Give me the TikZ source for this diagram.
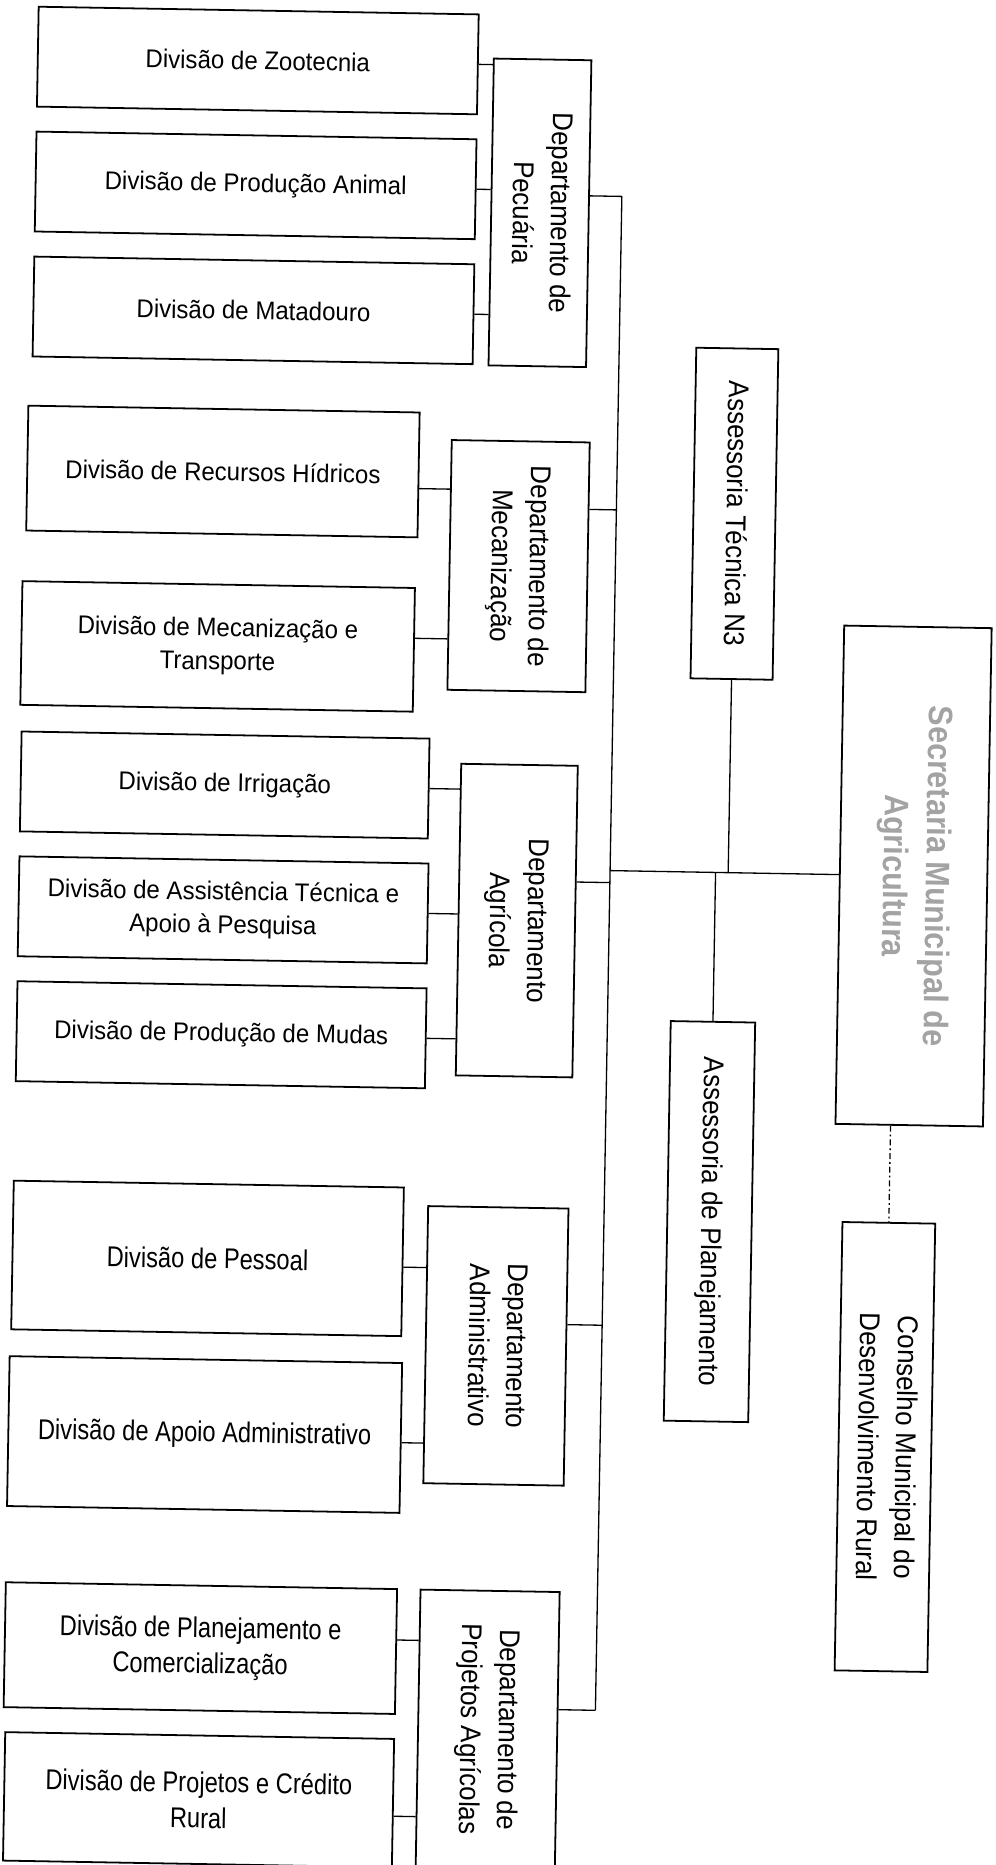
\documentclass[tikz,border=0pt]{standalone}
\usepackage{fontspec}
\usepackage{graphicx}
\setmainfont{Liberation Sans}
\newfontfamily\fU{Liberation Sans}[FakeStretch=0.94]
\newfontfamily\fL{Liberation Sans}[FakeStretch=0.83]
\newfontfamily\fD{Liberation Sans}[FakeStretch=0.91]
\newfontfamily\fS{Liberation Sans}[FakeStretch=0.9]
\definecolor{secgray}{gray}{0.64}
\newcommand{\vtext}[1]{\rotatebox{-90}{\begin{tabular}{@{}c@{}}#1\end{tabular}}}
\begin{document}
\begin{tikzpicture}[x=1pt,y=-1pt,
  box/.style={draw, line width=1.5pt, inner sep=0pt, align=center},
  divU/.style={box, font=\fU\fontsize{21.5}{28}\selectfont},
  divL/.style={box, font=\fL\fontsize{24}{30}\selectfont},
  dept/.style={box, font=\fD\fontsize{24}{32}\selectfont},
  secbox/.style={box, text=secgray, font=\fS\bfseries\fontsize{28.5}{36}\selectfont},
  conn/.style={line width=1.1pt},
  dashconn/.style={line width=1.1pt, dash pattern=on 5pt off 2.5pt on 1.5pt off 2.5pt}]
\fill[white] (0,0) rectangle (837,1568);
\useasboundingbox (0,0) rectangle (837,1568);
\begin{scope}[rotate around={-1:(418,784)}, transform shape]
% Departamento de Pecuaria
\node[divU, minimum width=370pt, minimum height=84pt] (zoot) at (204,54.5) {Divisão de Zootecnia};
\node[divU, minimum width=370pt, minimum height=84pt] (prod) at (204,159.5) {Divisão de Produção Animal};
\node[divU, minimum width=370pt, minimum height=84pt] (mat) at (204,264.6) {Divisão de Matadouro};
\node[dept, minimum width=82pt, minimum height=258pt] (pec) at (443.4,178.4) {\vtext{Departamento de\\Pecuária}};
% Departamento de Mecanizacao
\node[divU, minimum width=329pt, minimum height=105pt] (rec) at (180.7,400.5) {Divisão de Recursos Hídricos};
\node[divU, minimum width=330pt, minimum height=104pt] (mectr) at (178.8,547.6) {Divisão de Mecanização e\\Transporte};
\node[dept, minimum width=116pt, minimum height=210pt] (mec) at (430.6,475.7) {\vtext{Departamento de\\Mecanização}};
% Departamento Agricola
\node[divU, minimum width=343pt, minimum height=84pt] (irr) at (186.8,664) {Divisão de Irrigação};
\node[divU, minimum width=344pt, minimum height=84pt] (ast) at (187.3,769) {Divisão de Assistência Técnica e\\Apoio à Pesquisa};
\node[divU, minimum width=344pt, minimum height=84pt] (mud) at (187.5,874) {Divisão de Produção de Mudas};
\node[dept, minimum width=98pt, minimum height=262pt] (agr) at (434.3,773.7) {\vtext{Departamento\\Agrícola}};
% Departamento Administrativo
\node[divL, minimum width=328pt, minimum height=125pt] (pes) at (179.3,1062.2) {Divisão de Pessoal};
\node[divL, minimum width=330pt, minimum height=126pt] (apo) at (179.4,1210.3) {Divisão de Apoio Administrativo};
\node[dept, minimum width=118pt, minimum height=233pt] (adm) at (423,1131.5) {\vtext{Departamento\\Administrativo}};
% Departamento de Projetos Agricolas
\node[divL, minimum width=329pt, minimum height=105pt] (pla) at (179,1389.9) {Divisão de Planejamento e\\Comercialização};
\node[divL, minimum width=327pt, minimum height=108pt] (pro) at (179.7,1517.4) {Divisão de Projetos e Crédito\\Rural};
\node[dept, minimum width=117pt, minimum height=233pt] (dpro) at (421.7,1454) {\vtext{Departamento de\\Projetos Agrícolas}};
% right side
\node[dept, minimum width=69pt, minimum height=278pt] (at) at (611.3,428.5) {\vtext{Assessoria Técnica N3}};
\node[dept, minimum width=71pt, minimum height=336pt] (ap) at (600.7,1023.9) {\vtext{Assessoria de Planejamento}};
\node[secbox, minimum width=124pt, minimum height=419pt] (sec) at (767.2,730.4) {\vtext{Secretaria Municipal de\\Agricultura}};
\node[dept, minimum width=78pt, minimum height=377pt] (cons) at (751.5,1210.8) {\vtext{Conselho Municipal do\\Desenvolvimento Rural}};
% trunk coordinates
\coordinate (ttop) at (512,163.4);
\coordinate (mecT) at (512,427);
\coordinate (agrT) at (512,740.4);
\coordinate (mainT) at (512,730.3);
\coordinate (admT) at (512,1112.6);
\coordinate (tbot) at (512,1436.4);
% trunk and department connectors
\draw[conn] (ttop) -- (tbot);
\draw[conn] (pec.east |- ttop) -- (ttop);
\draw[conn] (mec.east |- mecT) -- (mecT);
\draw[conn] (agr.east |- agrT) -- (agrT);
\draw[conn] (adm.east |- admT) -- (admT);
\draw[conn] (dpro.east |- tbot) -- (tbot);
\draw[conn] (mainT) -- (sec.west |- mainT);
\draw[conn] (at.south) -- (at.south |- mainT);
\draw[conn] (ap.north) -- (ap.north |- mainT);
\draw[dashconn] (sec.south -| cons.north) -- (cons.north);
% division connectors
\draw[conn] (zoot.east) -- (zoot.east -| pec.west);
\draw[conn] (prod.east) -- (prod.east -| pec.west);
\draw[conn] (mat.east) -- (mat.east -| pec.west);
\path ([yshift=-11.5pt]rec.east) coordinate (recC);
\path ([yshift=9.7pt]mectr.east) coordinate (mectrC);
\draw[conn] (recC) -- (recC -| mec.west);
\draw[conn] (mectrC) -- (mectrC -| mec.west);
\draw[conn] (irr.east) -- (irr.east -| agr.west);
\draw[conn] (ast.east) -- (ast.east -| agr.west);
\draw[conn] (mud.east) -- (mud.east -| agr.west);
\path ([yshift=-4.5pt]pes.east) coordinate (pesC);
\path ([yshift=-4pt]apo.east) coordinate (apoC);
\draw[conn] (pesC) -- (pesC -| adm.west);
\draw[conn] (apoC) -- (apoC -| adm.west);
\path ([yshift=9.7pt]pla.east) coordinate (plaC);
\path ([yshift=-11pt]pro.east) coordinate (proC);
\draw[conn] (plaC) -- (plaC -| dpro.west);
\draw[conn] (proC) -- (proC -| dpro.west);
\end{scope}
\end{tikzpicture}
\end{document}
